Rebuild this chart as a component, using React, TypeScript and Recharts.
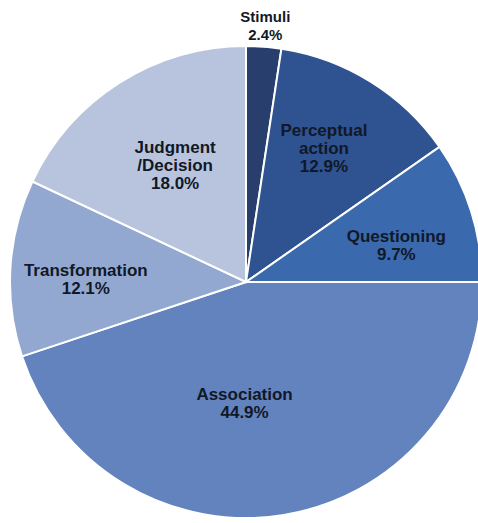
import { Cell, Pie, PieChart } from 'recharts';

// Slices clockwise from 12 o'clock
const categories = ['Stimuli', 'Perceptual action', 'Questioning', 'Association', 'Transformation', 'Judgment/Decision'];
const shares = [2.4, 12.9, 9.7, 44.9, 12.1, 18.0];
const labelLines = [['Stimuli'], ['Perceptual', 'action'], ['Questioning'], ['Association'], ['Transformation'], ['Judgment', '/Decision']];

const COLORS = ['#283f6e', '#2f5290', '#3b69ad', '#6283bd', '#93a8d0', '#b8c4de'];
// how far out each label sits (fraction of radius) plus a small pixel nudge
const LABEL_R = [1.09, 0.65, 0.65, 0.52, 0.68, 0.6];
const LABEL_NUDGE = [
  [0, 0],
  [-3, -4],
  [4, 9],
  [-21, 0],
  [0, 7],
  [5, 3],
];

const data = categories.map((name, i) => ({ name, value: shares[i] }));

const RAD = Math.PI / 180;

function renderLabel(props: any) {
  const { cx, cy, midAngle, outerRadius, index } = props;
  const r = outerRadius * LABEL_R[index];
  const x = cx + r * Math.cos(-midAngle * RAD) + LABEL_NUDGE[index][0];
  const y = cy + r * Math.sin(-midAngle * RAD) + LABEL_NUDGE[index][1];
  const lines = [...labelLines[index], `${shares[index].toFixed(1)}%`];
  const lh = 18;
  const top = y - ((lines.length - 1) * lh) / 2;
  const fs = index === 0 ? 15 : 17;
  return (
    <text
      x={x}
      y={top}
      textAnchor="middle"
      dominantBaseline="central"
      fontFamily="'Liberation Sans', Arial, sans-serif"
      fontWeight="bold"
      fontSize={fs}
      fill="#111827"
    >
      {lines.map((l, k) => (
        <tspan key={k} x={x} dy={k === 0 ? 0 : lh}>
          {l}
        </tspan>
      ))}
    </text>
  );
}

export default function App() {
  return (
    <div style={{ position: 'absolute', left: 0, top: 0, width: 478, height: 523, background: '#fff' }}>
      <PieChart width={478} height={523} margin={{ top: 0, right: 0, bottom: 0, left: 0 }}>
        <Pie
          data={data}
          dataKey="value"
          nameKey="name"
          cx={246}
          cy={282}
          outerRadius={236}
          startAngle={90}
          endAngle={-270}
          stroke="#ffffff"
          strokeWidth={2}
          label={renderLabel}
          labelLine={false}
          isAnimationActive={false}
        >
          {data.map((d, i) => (
            <Cell key={d.name} fill={COLORS[i]} />
          ))}
        </Pie>
      </PieChart>
    </div>
  );
}
